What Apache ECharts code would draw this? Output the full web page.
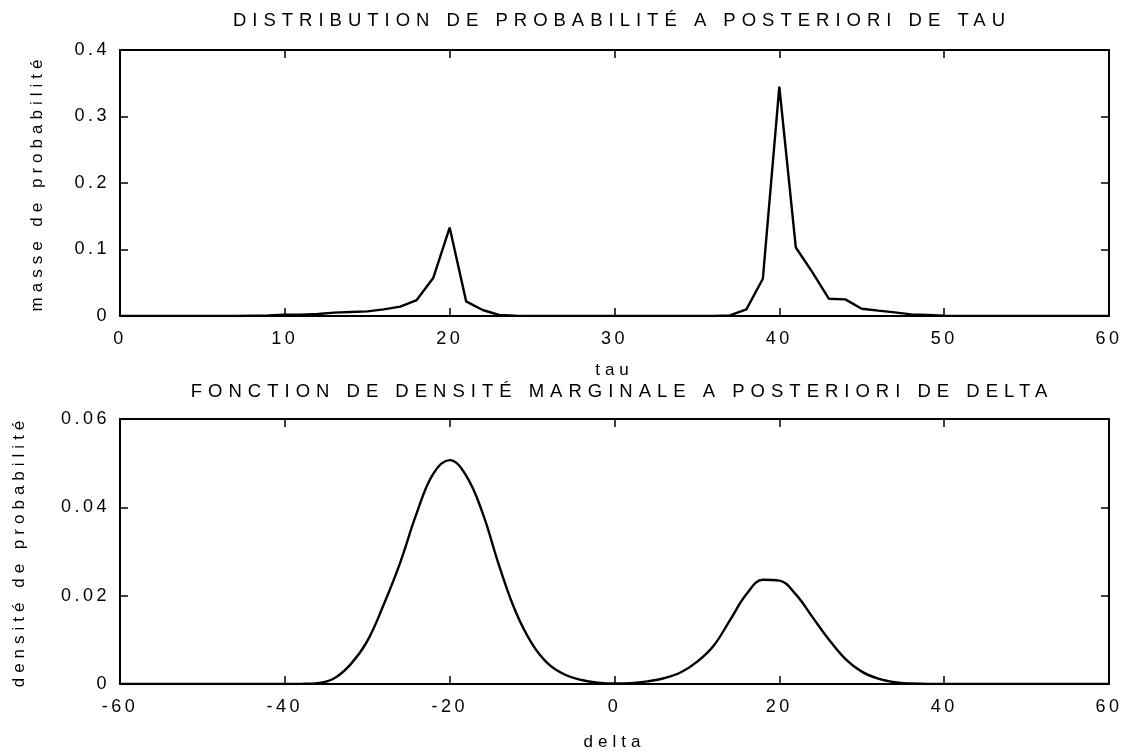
<!DOCTYPE html>
<html>
<head>
<meta charset="utf-8">
<title>distributions a posteriori</title>
<script src="https://cdn.jsdelivr.net/npm/echarts@6/dist/echarts.min.js"></script>
<style>
  html, body { margin: 0; padding: 0; background: #fff; }
  #chart { width: 1127px; height: 754px; }
</style>
</head>
<body>
<div id="chart"></div>
<script>
// tau : masse de probabilite, un point par entier 0..60
var tauValues = [];
for (var t = 0; t <= 60; t++) tauValues.push(t);
var tauMass = [
  0, 0, 0, 0, 0, 0, 0, 0, 0.0005, 0.001,          // 0-9
  0.002, 0.002, 0.003, 0.005, 0.006, 0.007, 0.010, 0.014, 0.024, 0.057, // 10-19
  0.133, 0.022, 0.009, 0.0015, 0.0003, 0, 0, 0, 0, 0,                 // 20-29
  0, 0, 0, 0, 0, 0, 0, 0.001, 0.010, 0.056,                            // 30-39
  0.345, 0.103, 0.066, 0.026, 0.025, 0.011, 0.008, 0.0055, 0.0025, 0.0015, // 40-49
  0.0005, 0, 0, 0, 0, 0, 0, 0, 0, 0, 0                                 // 50-60
]

// delta : densite marginale, pas de 2
var deltaValues = [
  -60, -58, -56, -54, -52, -50, -48, -46, -44, -42,
  -40, -38, -36, -34, -32, -30, -28, -26, -24, -22,
  -20, -18, -16, -14, -12, -10, -8, -6, -4, -2,
  0, 2, 4, 6, 8, 10, 12, 14, 16, 18,
  20, 22, 24, 26, 28, 30, 32, 34, 36, 38,
  40, 42, 44, 46, 48, 50, 52, 54, 56, 58, 60
]
var deltaDensity = [
  0, 0, 0, 0, 0, 0, 0, 0, 0, 0,
  0, 0.00003, 0.0002, 0.0013, 0.0045, 0.0097, 0.018, 0.0275, 0.0387, 0.0476,
  0.0507, 0.0472, 0.0387, 0.0268, 0.0164, 0.0091, 0.0045, 0.0021, 0.0009, 0.0003,
  0.0001, 0.0002, 0.0006, 0.0013, 0.0026, 0.005, 0.0086, 0.0144, 0.0203, 0.0236,
  0.0234, 0.0203, 0.0152, 0.0101, 0.0057, 0.0028, 0.0012, 0.0004, 0.0001, 0,
  0, 0, 0, 0, 0, 0, 0, 0, 0, 0, 0
]

var tauTicks = [0, 10, 20, 30, 40, 50, 60]
var deltaTicks = [-60, -40, -20, 0, 20, 40, 60]
var massTicks = [0, 0.1, 0.2, 0.3, 0.4]
var densTicks = [0, 0.02, 0.04, 0.06]

// le trace matlab d'origine a un texte tres espace : on ajoute un
// letterSpacing au canvas selon la taille de police (titres / graduations / noms d'axe)
var SPACING = { 18.5: 6, 18: 3.5, 17: 5 }
;['fillText', 'strokeText', 'measureText'].forEach(function (fn) {
  var orig = CanvasRenderingContext2D.prototype[fn]
  CanvasRenderingContext2D.prototype[fn] = function () {
    var m = /([\d.]+)px/.exec(this.font)
    var sp = m ? SPACING[parseFloat(m[1])] : 0
    this.letterSpacing = (sp || 0) + 'px'
    return orig.apply(this, arguments)
  }
})

var FONT = '"Liberation Sans", Arial, sans-serif'
var lbl = { color: '#000', fontSize: 18, fontFamily: FONT }
var nameStyle = { color: '#000', fontSize: 17, fontFamily: FONT }
var titleStyle = { color: '#000', fontSize: 18.5, fontWeight: 'normal', fontFamily: FONT }

function zip (xs, ys) {
  return xs.map(function (x, i) { return [x, ys[i]] })
}

// axe avec graduations vers l'interieur, facon boite matlab
function xAx (grid, ticks, pos, showLabel, name, gap) {
  return {
    type: 'value',
    gridIndex: grid,
    position: pos,
    min: ticks[0],
    max: ticks[ticks.length - 1],
    interval: ticks[1] - ticks[0],
    name: name || '',
    nameLocation: 'middle',
    nameGap: gap || 0,
    nameTextStyle: nameStyle,
    axisLine: { show: true, onZero: false, lineStyle: { color: '#000', width: 2 } },
    axisTick: { show: true, inside: true, length: 8, lineStyle: { color: '#000', width: 1.5 } },
    axisLabel: Object.assign({ show: showLabel, margin: 12 }, lbl),
    splitLine: { show: false }
  }
}
function yAx (grid, ticks, pos, showLabel, name, gap, fmt) {
  return {
    type: 'value',
    gridIndex: grid,
    position: pos,
    min: ticks[0],
    max: ticks[ticks.length - 1],
    interval: ticks[1] - ticks[0],
    name: name || '',
    nameLocation: 'middle',
    nameGap: gap || 0,
    nameRotate: 90,
    nameTextStyle: nameStyle,
    axisLine: { show: true, onZero: false, lineStyle: { color: '#000', width: 2 } },
    axisTick: { show: true, inside: true, length: 8, lineStyle: { color: '#000', width: 1.5 } },
    axisLabel: Object.assign({ show: showLabel, margin: 10, formatter: fmt }, lbl),
    splitLine: { show: false }
  }
}
function fmtMass (v) { return v === 0 ? '0' : v.toFixed(1) }
function fmtDens (v) { return v === 0 ? '0' : v.toFixed(2) }

var chart = echarts.init(document.getElementById('chart'), null, { renderer: 'canvas' })
chart.setOption({
  backgroundColor: '#fff',
  animation: false,
  title: [
    {
      text: 'DISTRIBUTION DE PROBABILITÉ A POSTERIORI DE TAU',
      left: 617, top: 3, textAlign: 'center',
      textStyle: titleStyle
    },
    {
      text: 'FONCTION DE DENSITÉ MARGINALE A POSTERIORI DE DELTA',
      left: 617, top: 374, textAlign: 'center',
      textStyle: titleStyle
    }
  ],
  grid: [
    { left: 120, right: 18, top: 50, height: 266 },
    { left: 120, right: 18, top: 419, height: 267 }
  ],
  xAxis: [
    xAx(0, tauTicks, 'bottom', true, 'tau', 43),
    xAx(0, tauTicks, 'top', false),
    xAx(1, deltaTicks, 'bottom', true, 'delta', 47),
    xAx(1, deltaTicks, 'top', false)
  ],
  yAxis: [
    yAx(0, massTicks, 'left', true, 'masse de probabilité', 72, fmtMass),
    yAx(0, massTicks, 'right', false),
    yAx(1, densTicks, 'left', true, 'densité de probabilité', 90, fmtDens),
    yAx(1, densTicks, 'right', false)
  ],
  series: [
    {
      type: 'line',
      xAxisIndex: 0,
      yAxisIndex: 0,
      data: zip(tauValues, tauMass),
      showSymbol: false,
      lineStyle: { color: '#000', width: 2.4 }
    },
    {
      type: 'line',
      xAxisIndex: 2,
      yAxisIndex: 2,
      data: zip(deltaValues, deltaDensity),
      smooth: 0.4,
      showSymbol: false,
      lineStyle: { color: '#000', width: 2.4 }
    }
  ]
})
</script>
</body>
</html>
